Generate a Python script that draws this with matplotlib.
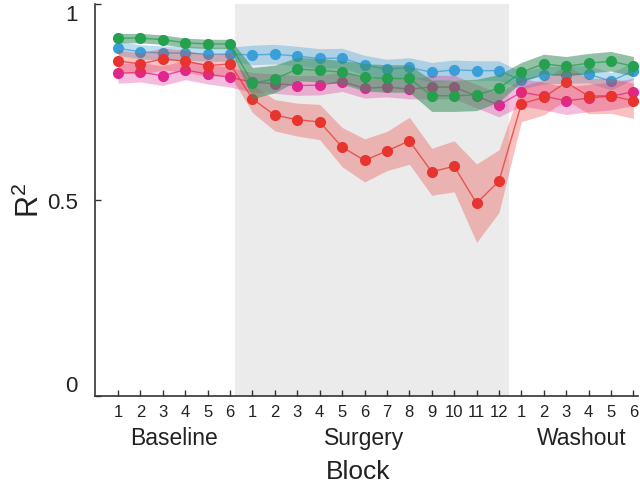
import numpy as np
import matplotlib
matplotlib.use("Agg")
import matplotlib.pyplot as plt

plt.rcParams['font.family'] = ['Liberation Sans', 'DejaVu Sans']
plt.rcParams['mathtext.default'] = 'regular'

# block numbers inside each phase
baseline_blocks = [1, 2, 3, 4, 5, 6]
surgery_blocks = [1, 2, 3, 4, 5, 6, 7, 8, 9, 10, 11, 12]
washout_blocks = [1, 2, 3, 4, 5, 6]
tick_labels = [str(b) for b in baseline_blocks + surgery_blocks + washout_blocks]

# mean R^2 per block (baseline 6, surgery 12, washout 6)
blue_mean = [0.887, 0.878, 0.875, 0.875, 0.872, 0.872,
             0.870, 0.872, 0.867, 0.861, 0.862, 0.844, 0.834, 0.838, 0.826, 0.832, 0.830, 0.830,
             0.805, 0.818, 0.820, 0.821, 0.803, 0.830]
blue_err = [0.018, 0.018, 0.018, 0.018, 0.018, 0.018,
            0.025, 0.025, 0.025, 0.025, 0.025, 0.025, 0.025, 0.025, 0.025, 0.025, 0.025, 0.025,
            0.022, 0.022, 0.022, 0.022, 0.022, 0.022]

magenta_mean = [0.823, 0.826, 0.817, 0.832, 0.821, 0.813,
                0.800, 0.797, 0.792, 0.793, 0.802, 0.785, 0.788, 0.783, 0.788, 0.788, 0.765, 0.742,
                0.775, 0.765, 0.753, 0.760, 0.765, 0.776]
magenta_err = [0.025, 0.025, 0.025, 0.025, 0.025, 0.025,
               0.025, 0.025, 0.025, 0.025, 0.025, 0.025, 0.025, 0.025, 0.03, 0.03, 0.03, 0.03,
               0.035, 0.035, 0.035, 0.035, 0.035, 0.035]

red_mean = [0.855, 0.847, 0.860, 0.854, 0.843, 0.847,
            0.758, 0.716, 0.705, 0.699, 0.635, 0.601, 0.625, 0.651, 0.572, 0.586, 0.492, 0.548,
            0.745, 0.762, 0.800, 0.765, 0.766, 0.753]
red_err = [0.028, 0.028, 0.028, 0.028, 0.028, 0.028,
           0.035, 0.04, 0.042, 0.045, 0.05, 0.055, 0.05, 0.06, 0.06, 0.065, 0.1, 0.08,
           0.045, 0.045, 0.045, 0.045, 0.045, 0.045]

green_mean = [0.913, 0.913, 0.909, 0.901, 0.898, 0.898,
              0.798, 0.809, 0.834, 0.831, 0.826, 0.813, 0.810, 0.810, 0.766, 0.766, 0.768, 0.785,
              0.826, 0.847, 0.841, 0.849, 0.854, 0.841]
green_err = [0.012, 0.012, 0.012, 0.012, 0.012, 0.012,
             0.04, 0.035, 0.03, 0.03, 0.03, 0.035, 0.035, 0.035, 0.04, 0.04, 0.04, 0.035,
             0.025, 0.025, 0.025, 0.025, 0.025, 0.025]

x = np.arange(1, len(tick_labels) + 1)

fig = plt.figure(figsize=(6.4, 4.89), dpi=100)
ax = fig.add_axes([0.1477, 0.1881, 0.849, 0.8017])

# surgery period shading
ax.axvspan(6.2, 18.45, color='#ebebeb', zorder=0, lw=0)

# (mean, err, marker colour, band colour, band alpha)
series = [
    (blue_mean, blue_err, '#3a9fd8', '#3a9fd8', 0.35),
    (magenta_mean, magenta_err, '#e0278f', '#e0278f', 0.3),
    (red_mean, red_err, '#e8342f', '#e8342f', 0.3),
    (green_mean, green_err, '#24a04e', '#3a8f5c', 0.55),
]
z = 1
for mean, err, col, bcol, a in series:
    mean = np.array(mean)
    err = np.array(err)
    ax.fill_between(x, mean - err, mean + err, color=bcol, alpha=a, lw=0, zorder=z)
    ax.plot(x, mean, '-', color=col, lw=1.0, alpha=0.75, zorder=z + 1)
    ax.plot(x, mean, 'o', color=col, ms=7, mec=col, zorder=z + 1)
    z += 2

ax.set_xlim(-0.05, 24.2)
ax.set_ylim(0, 1)
ax.set_xticks(x)
ax.set_xticklabels(tick_labels, fontsize=12)
ax.set_yticks([0, 0.5, 1])
ax.set_yticklabels(['0', '0.5', '1'], fontsize=16)
ax.tick_params(axis='x', direction='in', length=4, pad=6, width=1, colors='#333333', labelcolor='#222222')
ax.tick_params(axis='y', direction='in', length=4, pad=12, width=1, colors='#333333', labelcolor='#222222')
# end labels sit inside the axis range, as in the original
ylabs = ax.get_yticklabels()
ylabs[0].set_va('bottom')
ylabs[2].set_va('top')
for s in ['top', 'right']:
    ax.spines[s].set_visible(False)
for s in ['left', 'bottom']:
    ax.spines[s].set_linewidth(1.2)
    ax.spines[s].set_color('#333333')

# phase labels and axis titles
trans = ax.get_xaxis_transform()
ax.text(3.5, -0.105, 'Baseline', fontsize=16.5, ha='center', va='center', transform=trans, color='#222222')
ax.text(12.0, -0.105, 'Surgery', fontsize=16.5, ha='center', va='center', transform=trans, color='#222222')
ax.text(21.7, -0.105, 'Washout', fontsize=16.5, ha='center', va='center', transform=trans, color='#222222')
ax.text(11.7, -0.19, 'Block', fontsize=19, ha='center', va='center', transform=trans, color='#222222')
fig.text(30 / 640, 1 - 200 / 489, 'R$^2$', fontsize=22, rotation=90, ha='center', va='center', color='#222222')

fig.savefig('out.png', dpi=100)
